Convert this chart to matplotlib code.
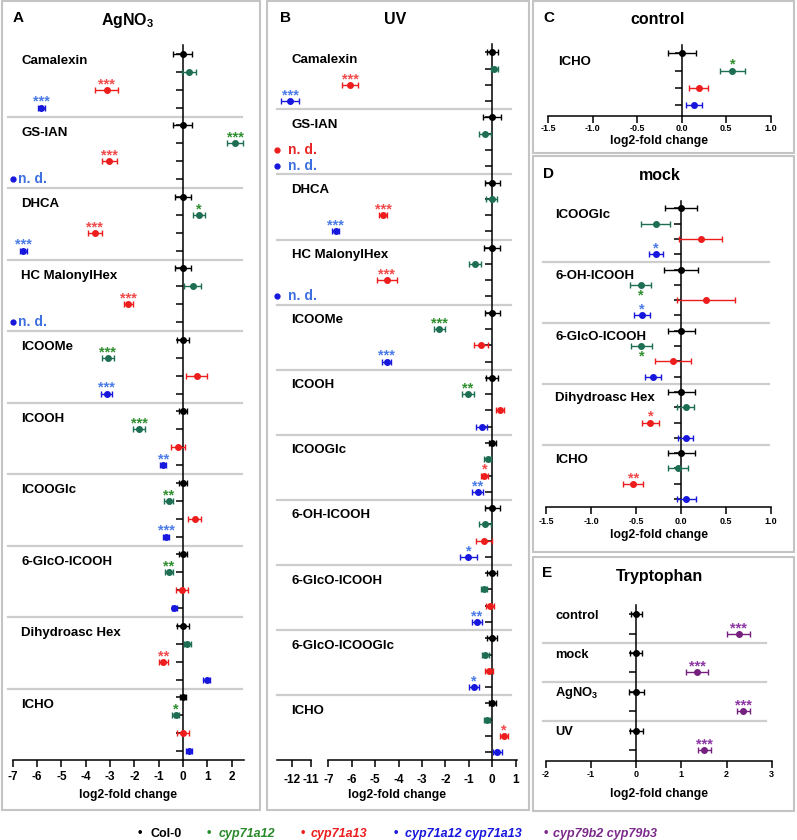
import numpy as np
import matplotlib
matplotlib.use('Agg')
import matplotlib.pyplot as plt
from matplotlib import rcParams
from matplotlib.patches import Rectangle
from matplotlib.transforms import blended_transform_factory

rcParams['font.family'] = ['Liberation Sans', 'DejaVu Sans']
rcParams['font.weight'] = 'bold'
rcParams['axes.unicode_minus'] = False
rcParams['mathtext.fontset'] = 'custom'
rcParams['mathtext.rm'] = 'Liberation Sans:bold'
rcParams['mathtext.it'] = 'Liberation Sans:bold:italic'
rcParams['mathtext.bf'] = 'Liberation Sans:bold'
rcParams['mathtext.default'] = 'rm'

nan = np.nan

# ---- Panel A: AgNO3 ----
names_A = ['Camalexin', 'GS-IAN', 'DHCA', 'HC MalonylHex', 'ICOOMe', 'ICOOH',
           'ICOOGlc', '6-GlcO-ICOOH', 'Dihydroasc Hex', 'ICHO']
A_col0 = [0, 0, 0, 0, 0, 0, 0, 0, 0, 0]
A_col0_err = [0.39, 0.39, 0.31, 0.33, 0.23, 0.17, 0.16, 0.16, 0.25, 0.12]
A_a12 = [0.25, 2.14, 0.66, 0.40, -3.09, -1.80, -0.58, -0.58, 0.18, -0.30]
A_a12_err = [0.27, 0.32, 0.26, 0.34, 0.25, 0.24, 0.19, 0.17, 0.14, 0.15]
A_a12_sig = ['', '***', '*', '', '***', '***', '**', '**', '', '*']
A_a13 = [-3.14, -3.03, -3.62, -2.24, 0.56, -0.21, 0.48, -0.04, -0.81, -0.01]
A_a13_err = [0.46, 0.31, 0.29, 0.19, 0.44, 0.29, 0.26, 0.25, 0.19, 0.25]
A_a13_sig = ['***', '***', '***', '***', '', '', '', '', '**', '']
A_dbl = [-5.82, nan, -6.57, nan, -3.14, -0.81, -0.70, -0.36, 0.97, 0.26]
A_dbl_err = [0.14, nan, 0.15, nan, 0.21, 0.13, 0.12, 0.11, 0.13, 0.12]
A_dbl_sig = ['***', '', '***', '', '***', '**', '***', '', '', '']

# ---- Panel B: UV ----
names_B = ['Camalexin', 'GS-IAN', 'DHCA', 'HC MalonylHex', 'ICOOMe', 'ICOOH',
           'ICOOGlc', '6-OH-ICOOH', '6-GlcO-ICOOH', '6-GlcO-ICOOGlc', 'ICHO']
B_col0 = [0, 0, 0, 0, 0, 0, 0, 0, 0, 0, 0]
B_col0_err = [0.24, 0.39, 0.31, 0.35, 0.33, 0.25, 0.16, 0.31, 0.21, 0.21, 0.16]
B_a12 = [0.09, -0.31, -0.03, -0.74, -2.26, -1.05, -0.20, -0.31, -0.34, -0.30, -0.23]
B_a12_err = [0.16, 0.24, 0.23, 0.26, 0.24, 0.25, 0.16, 0.26, 0.13, 0.14, 0.13]
B_a12_sig = ['', '', '', '', '***', '**', '', '', '', '', '']
B_a13 = [-6.08, nan, -4.66, -4.51, -0.48, 0.33, -0.34, -0.36, -0.09, -0.15, 0.51]
B_a13_err = [0.33, nan, 0.16, 0.43, 0.28, 0.19, 0.16, 0.33, 0.16, 0.17, 0.17]
B_a13_sig = ['***', '', '***', '***', '', '', '*', '', '', '', '*']
B_dbl = [-12.09, nan, -6.69, nan, -4.51, -0.45, -0.62, -1.02, -0.65, -0.78, 0.21]
B_dbl_err = [0.49, nan, 0.14, nan, 0.19, 0.23, 0.23, 0.36, 0.20, 0.21, 0.20]
B_dbl_sig = ['***', '', '***', '', '***', '', '**', '*', '**', '*', '']

# ---- Panel C: control ----
names_C = ['ICHO']
C_col0, C_col0_err = [0], [0.16]
C_a12, C_a12_err, C_a12_sig = [0.57], [0.14], ['*']
C_a13, C_a13_err, C_a13_sig = [0.19], [0.105], ['']
C_dbl, C_dbl_err, C_dbl_sig = [0.14], [0.09], ['']

# ---- Panel D: mock ----
names_D = ['ICOOGlc', '6-OH-ICOOH', '6-GlcO-ICOOH', 'Dihydroasc Hex', 'ICHO']
D_col0 = [0, 0, 0, 0, 0]
D_col0_err = [0.18, 0.19, 0.15, 0.15, 0.15]
D_a12 = [-0.28, -0.45, -0.44, 0.05, -0.03]
D_a12_err = [0.16, 0.12, 0.12, 0.09, 0.11]
D_a12_sig = ['', '*', '*', '', '']
D_a13 = [0.22, 0.28, -0.09, -0.34, -0.53]
D_a13_err = [0.24, 0.32, 0.20, 0.09, 0.11]
D_a13_sig = ['', '', '', '*', '**']
D_dbl = [-0.28, -0.43, -0.31, 0.05, 0.06]
D_dbl_err = [0.08, 0.09, 0.09, 0.08, 0.11]
D_dbl_sig = ['*', '*', '', '', '']

# ---- Panel E: Tryptophan ----
names_E = ['control', 'mock', 'AgNO$_3$', 'UV']
E_col0 = [0, 0, 0, 0]
E_col0_err = [0.12, 0.13, 0.16, 0.14]
E_b2b3 = [2.27, 1.35, 2.37, 1.51]
E_b2b3_err = [0.26, 0.24, 0.14, 0.15]
E_b2b3_sig = ['***', '***', '***', '***']

legend_labels = ['Col-0', 'cyp71a12', 'cyp71a13', 'cyp71a12 cyp71a13', 'cyp79b2 cyp79b3']

# colours: marker / asterisk
C_K = '#000000'
C_G, S_G = '#1d6e52', '#2f8f2f'
C_R, S_R = '#ee1d1d', '#f04a4a'
C_B, S_B = '#1717dd', '#4b7be6'
C_P, S_P = '#75207f', '#8c35a3'
SEP = '#cdcdcd'
BOX = '#c4c4c4'

W, H = 797, 840
fig = plt.figure(figsize=(W / 100, H / 100), dpi=100)


def px_axes(x0, x1, y0, y1):
    return fig.add_axes([x0 / W, 1 - y1 / H, (x1 - x0) / W, (y1 - y0) / H])


def ftext(x, y, s, **kw):
    fig.text(x / W, 1 - y / H, s, **kw)


def setup(ax, n_rows, ybot, xticks, labels, tsize, tpad, lpad):
    ax.set_ylim(ybot, -0.5)
    ax.patch.set_alpha(0)
    for s in ['top', 'right']:
        ax.spines[s].set_visible(False)
    ax.spines['left'].set_position(('data', 0))
    ax.spines['left'].set_linewidth(1.1)
    ax.spines['bottom'].set_linewidth(1.1)
    ax.set_yticks(np.arange(n_rows))
    ax.set_yticklabels([])
    ax.tick_params(axis='y', length=5, width=1.1, direction='out')
    ax.tick_params(axis='x', length=5, width=1.1, labelsize=tsize, pad=tpad)
    ax.set_xticks(xticks)
    ax.set_xticklabels(labels, fontweight='bold')
    ax.set_xlabel('log2-fold change', fontsize=8.7, fontweight='bold', labelpad=lpad)


def points(ax, rows, means, errs, col, sig=None, scol=None, below=False):
    m = np.asarray(means, float)
    e = np.asarray(errs, float)
    r = np.asarray(rows, float)
    ok = ~np.isnan(m)
    ax.errorbar(m[ok], r[ok], xerr=e[ok], fmt='o', ms=4, color=col, ecolor=col,
                elinewidth=1, capsize=2.5, capthick=1, zorder=3, clip_on=False)
    if sig is None:
        return
    for x, y, s in zip(m, r, sig):
        if s:
            off = -10.5 if below else 1.2
            ax.annotate(s, (x, y), xytext=(0, off), textcoords='offset points',
                        ha='center', va='baseline', color=scol, fontsize=10.5,
                        fontweight='bold', annotation_clip=False)


def group_labels(ax, names, step, xf, dy, size=9.5):
    tr = blended_transform_factory(ax.transAxes, ax.transData)
    for i, n in enumerate(names):
        ax.text(xf, i * step + dy, n, transform=tr, fontsize=size,
                fontweight='bold', va='center', ha='left')


def separators(ax, n, step, x0, x1):
    for i in range(1, n):
        ax.axhline(i * step - 0.5, x0, x1, color=SEP, lw=1.6, clip_on=False, zorder=1)


def not_detected(ax, rows, means, dotcol, txtcol, xdot, xtxt):
    tr = blended_transform_factory(ax.transAxes, ax.transData)
    for y, v in zip(rows, means):
        if np.isnan(v):
            ax.plot([xdot], [y], 'o', ms=3.5, color=dotcol, transform=tr, clip_on=False)
            ax.text(xtxt, y, 'n. d.', transform=tr, color=txtcol, fontsize=10,
                    fontweight='bold', va='center', ha='left')


# ---------------- Panel A ----------------
axA = px_axes(12.7, 243.8, 45.0, 760.0)
nA = len(names_A)
setup(axA, 4 * nA, 4 * nA - 0.5, np.arange(-7, 3), [str(t) for t in range(-7, 3)], 8.5, 3.0, 4.5)
axA.set_xlim(-7, 2.5)
rA = np.arange(nA) * 4
points(axA, rA, A_col0, A_col0_err, C_K)
points(axA, rA + 1, A_a12, A_a12_err, C_G, A_a12_sig, S_G)
points(axA, rA + 2, A_a13, A_a13_err, C_R, A_a13_sig, S_R)
points(axA, rA + 3, A_dbl, A_dbl_err, C_B, A_dbl_sig, S_B)
not_detected(axA, rA + 3, A_dbl, C_B, '#3d6fe0', 0.003, 0.022)
separators(axA, nA, 4, -0.02, 0.992)
group_labels(axA, names_A, 4, 0.036, 0.4)

# ---------------- Panel B (broken axis) ----------------
def fwd(x):
    x = np.asarray(x, float)
    return np.where(x >= -7, x, np.where(x >= -11, -7 + (x + 7) * 0.19, -7.76 + (x + 11) * 0.81))


def inv(u):
    u = np.asarray(u, float)
    return np.where(u >= -7, u, np.where(u >= -7.76, -7 + (u + 7) / 0.19, -11 + (u + 7.76) / 0.81))


axB = px_axes(276.7, 517.0, 44.2, 760.4)
nB = len(names_B)
axB.set_xscale('function', functions=(fwd, inv))
b_ticks = [-12, -11, -7, -6, -5, -4, -3, -2, -1, 0, 1]
setup(axB, 4 * nB, 4 * nB - 0.5, b_ticks, [str(t) for t in b_ticks], 8.5, 4.5, 2.5)
b_left = float(inv(-9.21))
axB.set_xlim(b_left, 1.056)
axB.spines['bottom'].set_visible(False)
yb = 4 * nB - 0.5
axB.plot([b_left, -11], [yb, yb], color='k', lw=1.1, clip_on=False)
axB.plot([-7, 1.056], [yb, yb], color='k', lw=1.1, clip_on=False)
rB = np.arange(nB) * 4
points(axB, rB, B_col0, B_col0_err, C_K)
points(axB, rB + 1, B_a12, B_a12_err, C_G, B_a12_sig, S_G)
points(axB, rB + 2, B_a13, B_a13_err, C_R, B_a13_sig, S_R)
points(axB, rB + 3, B_dbl, B_dbl_err, C_B, B_dbl_sig, S_B)
not_detected(axB, rB + 2, B_a13, C_R, '#e82424', 0.0025, 0.046)
not_detected(axB, rB + 3, B_dbl, C_B, '#3d6fe0', 0.0025, 0.046)
separators(axB, nB, 4, 0.0, 0.975)
group_labels(axB, names_B, 4, 0.062, 0.45)

# ---------------- Panel C ----------------
cd_ticks = [-1.5, -1.0, -0.5, 0.0, 0.5, 1.0]
axC = px_axes(548.3, 770.7, 44.6, 116.3)
setup(axC, 4, 3.64, cd_ticks, ['%.1f' % t for t in cd_ticks], 6.5, 0.8, 1.5)
axC.set_xlim(-1.5, 1.0)
points(axC, [0], C_col0, C_col0_err, C_K)
points(axC, [1], C_a12, C_a12_err, C_G, C_a12_sig, S_G)
points(axC, [2], C_a13, C_a13_err, C_R, C_a13_sig, S_R)
points(axC, [3], C_dbl, C_dbl_err, C_B, C_dbl_sig, S_B)
group_labels(axC, names_C, 4, 0.042, 0.48)

# ---------------- Panel D ----------------
axD = px_axes(546, 771, 200.65, 507.3)
nD = len(names_D)
setup(axD, 4 * nD, 4 * nD - 0.46, cd_ticks, ['%.1f' % t for t in cd_ticks], 6.5, 2.0, 2.5)
axD.set_xlim(-1.5, 1.0)
rD = np.arange(nD) * 4
points(axD, rD, D_col0, D_col0_err, C_K)
points(axD, rD + 1, D_a12, D_a12_err, C_G, D_a12_sig, S_G, below=True)
points(axD, rD + 2, D_a13, D_a13_err, C_R, D_a13_sig, S_R)
points(axD, rD + 3, D_dbl, D_dbl_err, C_B, D_dbl_sig, S_B)
separators(axD, nD, 4, -0.013, 0.991)
group_labels(axD, names_D, 4, 0.04, 0.42)

# ---------------- Panel E ----------------
axE = px_axes(546, 771.7, 604.6, 760.7)
nE = len(names_E)
setup(axE, 2 * nE, 2 * nE - 0.45, np.arange(-2, 4), [str(t) for t in range(-2, 4)], 6.5, 2.0, 6)
axE.set_xlim(-2, 3)
rE = np.arange(nE) * 2
points(axE, rE, E_col0, E_col0_err, C_K)
points(axE, rE + 1, E_b2b3, E_b2b3_err, C_P, E_b2b3_sig, S_P)
separators(axE, nE, 2, -0.013, 0.975)
group_labels(axE, names_E, 2, 0.04, 0.08, size=9.3)

# ---------------- panel frames, titles, letters ----------------
for x0, y0, x1, y1 in [(2, 1, 260, 810), (267, 1, 528.5, 810), (532.5, 1, 794, 152.5),
                       (532.5, 156, 794, 551.5), (532.5, 557, 794, 810.5)]:
    fig.add_artist(Rectangle((x0 / W, 1 - y1 / H), (x1 - x0) / W, (y1 - y0) / H,
                             transform=fig.transFigure, fill=False, ec=BOX, lw=1.5))

for x, y, s in [(128, 20, 'AgNO$_3$'), (395, 20, 'UV'), (658, 20, 'control'),
                (660, 175, 'mock'), (660, 577, 'Tryptophan')]:
    ftext(x, y, s, fontsize=11.5, fontweight='bold', ha='center', va='center')

for x, y, s in [(13, 18, 'A'), (280, 18, 'B'), (543, 18, 'C'), (543, 174, 'D'), (542, 573, 'E')]:
    ftext(x, y, s, fontsize=11, fontweight='bold', ha='left', va='center')

# ---------------- legend ----------------
leg_cols = [C_K, '#2a8a2a', C_R, C_B, '#7b2a8a']
leg_dot_x = [139.6, 209.1, 303.0, 396.0, 545.7]
leg_txt_x = [150.8, 218.3, 310.7, 404.6, 553.3]
for i, (lab, c) in enumerate(zip(legend_labels, leg_cols)):
    ftext(leg_dot_x[i], 833, '\u2022', color=c, fontsize=9, ha='center', va='center')
    ftext(leg_txt_x[i], 834, lab, color=c, fontsize=9, fontweight='bold',
          style='normal' if i == 0 else 'italic', ha='left', va='center')

fig.savefig('out.png', dpi=100)
